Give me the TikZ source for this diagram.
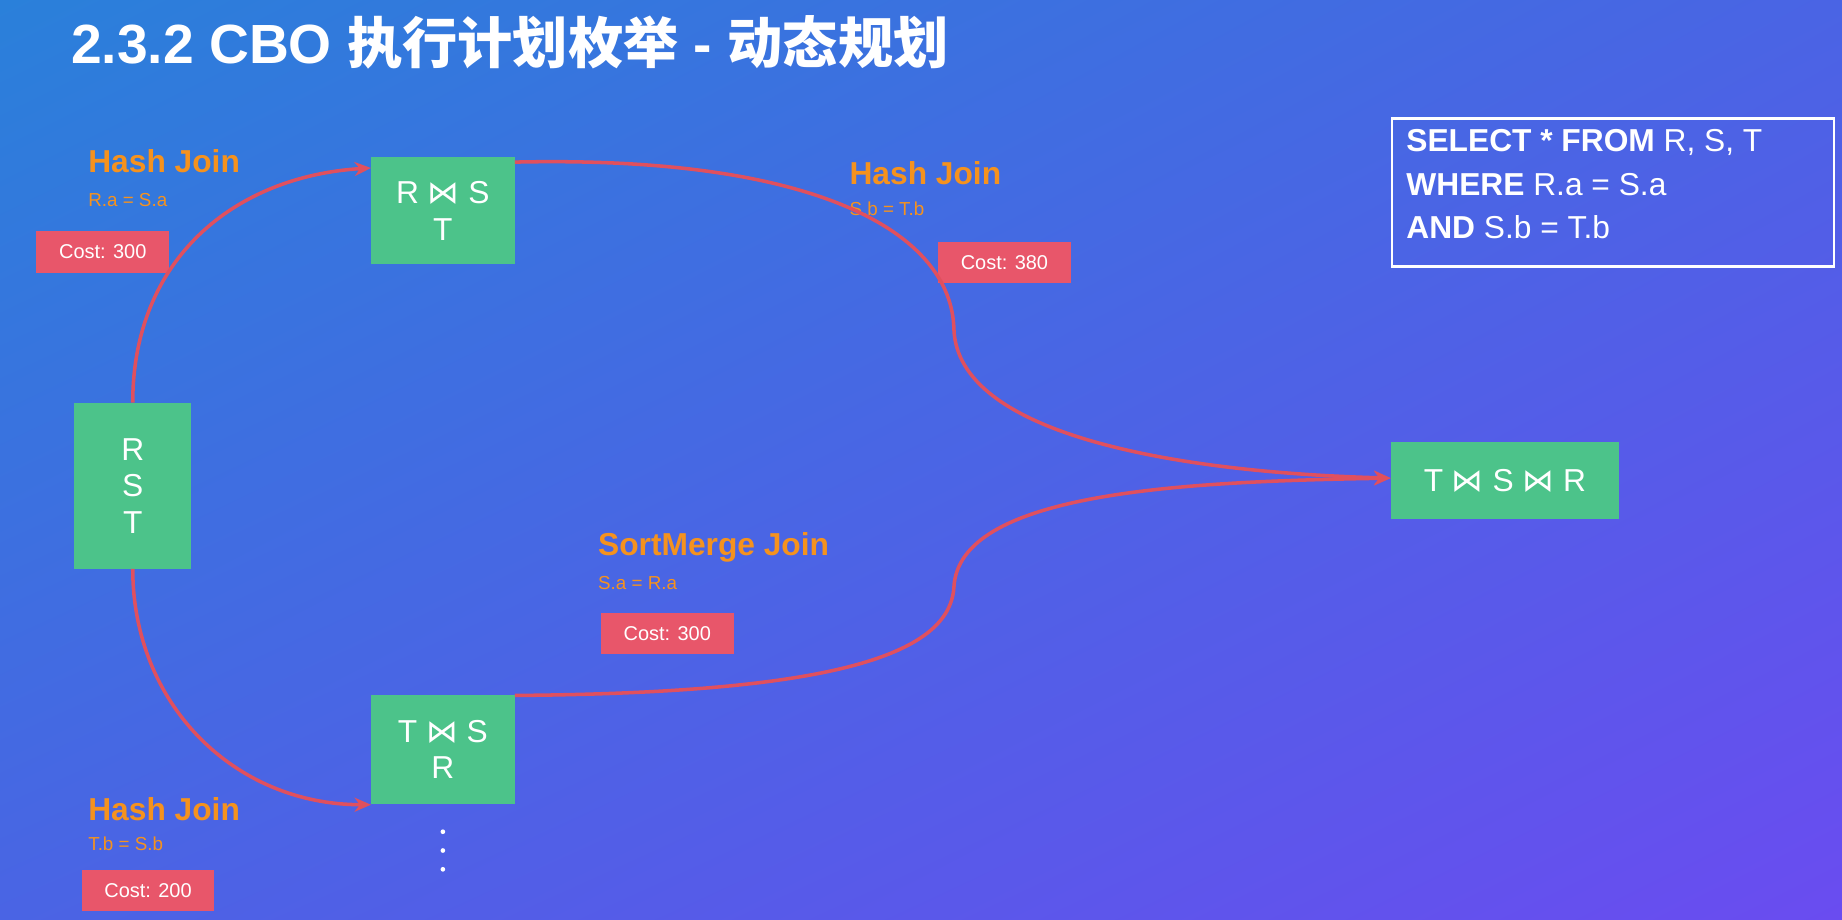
\documentclass[tikz,border=0pt]{standalone}
\usepackage{fontspec}
\setmainfont{Liberation Sans}
\newfontfamily\cjk{Noto Sans CJK SC}
\newfontfamily\djv{DejaVu Sans}
\usetikzlibrary{arrows.meta,shadings}
\definecolor{gr}{HTML}{4CC38A}
\definecolor{rd}{HTML}{E8566A}
\definecolor{ln}{HTML}{E0505E}
\definecolor{og}{HTML}{F5921E}
\definecolor{bgA}{HTML}{2A80DA}
\definecolor{bgB}{HTML}{4A64E4}
\definecolor{bgC}{HTML}{6A4CF0}
\newcommand{\bt}{{\djv\char"22C8}}
\tikzset{
 gbox/.style={fill=gr,text=white,font=\fontsize{27}{31}\selectfont,align=center,inner sep=0},
 cost/.style={fill=rd,text=white,font=\fontsize{17}{20}\selectfont,inner sep=0,minimum width=113pt,minimum height=35pt},
 jn/.style={text=og,font=\bfseries\fontsize{27}{30}\selectfont,anchor=west,inner sep=0},
 cd/.style={text=og,font=\fontsize{16}{18}\selectfont,anchor=west,inner sep=0},
 cv/.style={draw=ln,line width=3pt,-{Stealth[length=14pt,width=12pt]}},
 dot/.style={circle,fill=white,inner sep=0,minimum size=4pt},
}
\begin{document}
\begin{tikzpicture}[x=1pt,y=-1pt]
\shade[upper left=bgA,upper right=bgB,lower left=bgB,lower right=bgC] (0,0) rectangle (1568,783);
\useasboundingbox (0,0) rectangle (1568,783);
\node[anchor=west,text=white,font=\bfseries\fontsize{47}{50}\selectfont] (title) at (57,36) {2.3.2 CBO {\cjk\bfseries 执行计划枚举} - {\cjk\bfseries 动态规划}};
\node[gbox,minimum width=100pt,minimum height=141pt] (rst) at (113,413.5) {R\\S\\T};
\node[gbox,minimum width=122pt,minimum height=91pt] (rs) at (377,179.5) {R \bt{} S\\T};
\node[gbox,minimum width=122pt,minimum height=92pt] (ts) at (377,638) {T \bt{} S\\R};
\node[gbox,minimum width=194pt,minimum height=66pt] (fin) at (1281,409) {T \bt{} S \bt{} R};
\node[draw=white,line width=2pt,minimum width=376pt,minimum height=126pt,anchor=north west] (sqlbox) at (1184,100) {};
\node[anchor=north west,text=white,align=left,font=\fontsize{27}{37}\selectfont,inner sep=0] (sql) at (1197,110) {\textbf{SELECT * FROM} R, S, T\\\textbf{WHERE} R.a = S.a\\\textbf{AND} S.b = T.b};
\node[cost] (c1) at (87.5,214.5) {Cost: 300};
\node[cost] (c2) at (855,223.5) {Cost: 380};
\node[cost] (c3) at (568,539) {Cost: 300};
\node[cost] (c4) at (126,758) {Cost: 200};
\node[jn] (j1) at (75,137) {Hash Join};
\node[cd] (d1) at (75,170) {R.a = S.a};
\node[jn] (j2) at (723,147) {Hash Join};
\node[cd] (d2) at (723,178) {S.b = T.b};
\node[jn] (j3) at (509,466) {SortMerge Join};
\node[cd] (d3) at (509,496) {S.a = R.a};
\node[jn] (j4) at (75,689) {Hash Join};
\node[cd] (d4) at (75,718) {T.b = S.b};
\node[dot] (dt1) at (377,708) {};
\node[dot] (dt2) at (377,724) {};
\node[dot] (dt3) at (377,740) {};
\draw[cv] (rst.north) .. controls (113,220) and (200,150) .. (rs.west|-0,143);
\draw[cv] (rst.south) .. controls (113,600) and (200,685) .. (rs.west|-0,685);
\coordinate (k1) at (812,280);
\coordinate (k2) at (812,500);
\draw[cv] (rs.east|-0,138) .. controls (700,132) and (810,200) .. (k1) .. controls (815,370) and (1000,402) .. (fin.west|-0,407);
\draw[cv] (ts.east|-0,592) .. controls (700,590) and (808,560) .. (k2) .. controls (816,420) and (1000,410) .. (fin.west|-0,407);
\end{tikzpicture}
\end{document}
